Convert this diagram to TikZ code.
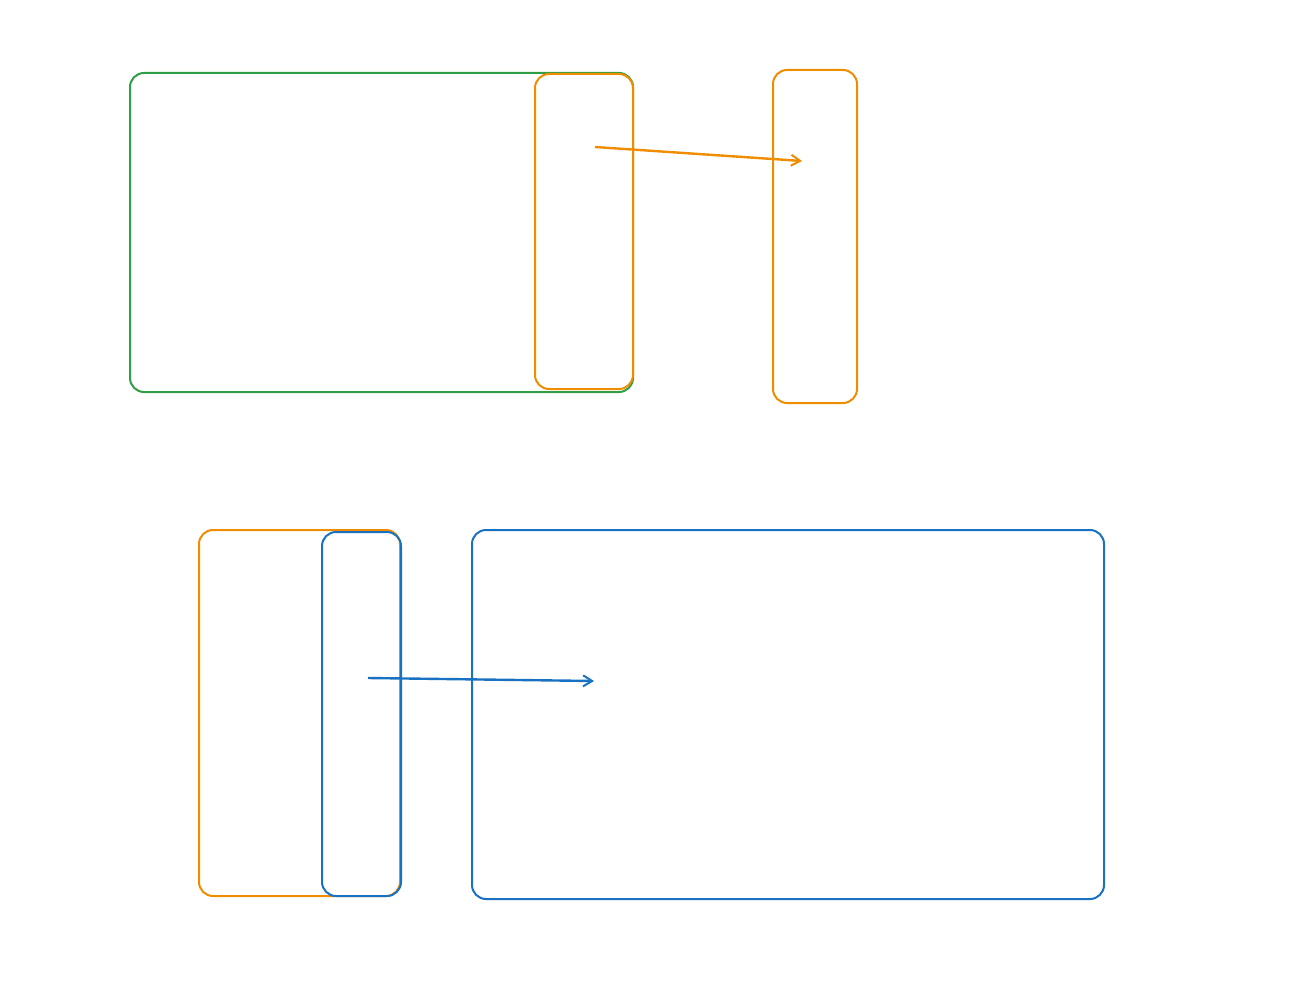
\documentclass[tikz,border=0pt]{standalone}
\usetikzlibrary{arrows.meta}
\definecolor{xgreen}{HTML}{2F9E44}
\definecolor{xorange}{HTML}{F08C00}
\definecolor{xblue}{HTML}{1971C2}
\begin{document}
\begin{tikzpicture}[x=1pt,y=-1pt,
  box/.style={draw=#1, line width=2pt, rounded corners=14pt},
  conn/.style={draw=#1, line width=2.4pt, -{Straight Barb[length=9pt,width=11pt,line width=2pt]}}]
\useasboundingbox (0,0) rectangle (1294,998);
% top group
\draw[box=xgreen] (130,73) rectangle (633,392) coordinate (g);
\draw[box=xorange] (535,74) rectangle (633,389);
\draw[box=xorange] (773,70) rectangle (857,403);
\coordinate (a1) at (595,147);
\coordinate (a2) at (802,161);
\draw[conn=xorange] (a1) -- (a2);
% bottom group
\draw[box=xorange] (199,530) rectangle (400,896);
\draw[box=xblue] (322,532) rectangle (401,896);
\draw[box=xblue] (472,530) rectangle (1104,899);
\coordinate (b1) at (368,678);
\coordinate (b2) at (594,681);
\draw[conn=xblue] (b1) -- (b2);
\end{tikzpicture}
\end{document}
